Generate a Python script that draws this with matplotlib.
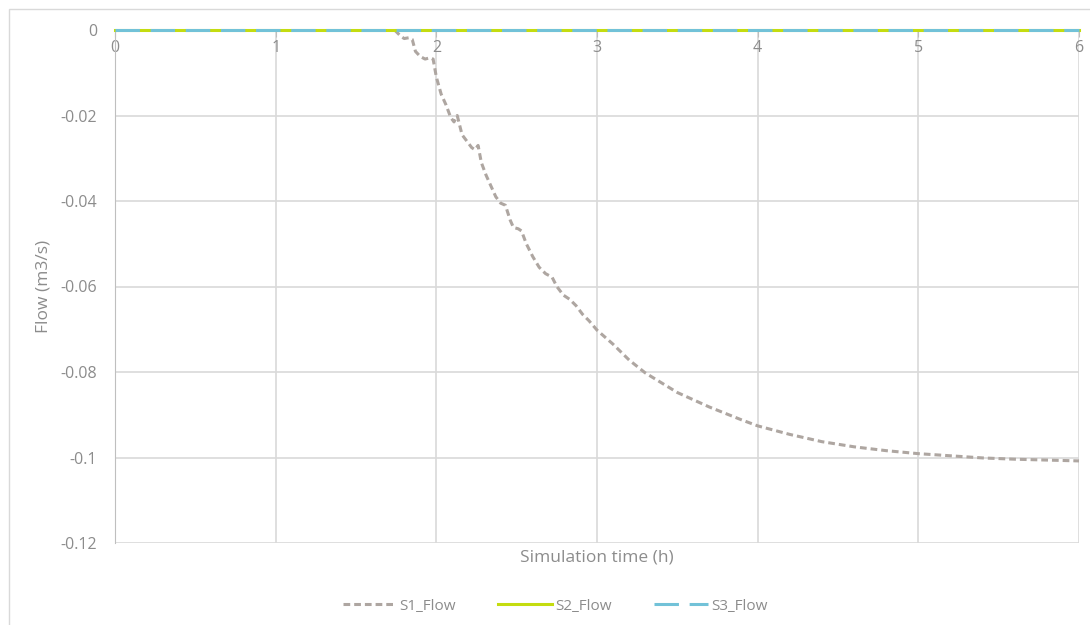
import matplotlib
matplotlib.use("Agg")
import matplotlib.pyplot as plt
from matplotlib.patches import Rectangle

plt.rcParams['font.family'] = ['Open Sans', 'DejaVu Sans']

# Simulation time (h) and flow (m3/s) for the three sources
s1_time = [1.74, 1.78, 1.80, 1.83, 1.85, 1.87, 1.90, 1.93, 1.96, 1.98, 2.00,
           2.03, 2.06, 2.09, 2.11, 2.13, 2.16, 2.19, 2.22, 2.24, 2.26, 2.28,
           2.31, 2.34, 2.37, 2.40, 2.43, 2.46, 2.48, 2.51, 2.53, 2.56, 2.60,
           2.64, 2.68, 2.72, 2.75, 2.79, 2.83, 2.87, 2.91, 2.95, 3.00, 3.1,
           3.2, 3.3, 3.4, 3.5, 3.6, 3.7, 3.8, 3.9, 4.0, 4.2, 4.4, 4.6, 4.8,
           5.0, 5.2, 5.4, 5.6, 5.8, 6.0]
s1_flow = [0.0, -0.0015, -0.002, -0.0018, -0.0022, -0.005, -0.0062, -0.0068,
           -0.0065, -0.0068, -0.011, -0.015, -0.0175, -0.0205, -0.0215, -0.020,
           -0.0245, -0.026, -0.0275, -0.028, -0.027, -0.031, -0.034, -0.0365,
           -0.039, -0.0405, -0.041, -0.0445, -0.0462, -0.0465, -0.047, -0.050,
           -0.053, -0.0555, -0.057, -0.0578, -0.060, -0.062, -0.063, -0.0645,
           -0.0665, -0.068, -0.0702, -0.0735, -0.0772, -0.0802, -0.0825,
           -0.0848, -0.0865, -0.0882, -0.0897, -0.0912, -0.0926, -0.0946,
           -0.0963, -0.0975, -0.0984, -0.0991, -0.0996, -0.1001, -0.1004,
           -0.1006, -0.1008]
s2_time = [0.0, 6.0]
s2_flow = [0.0, 0.0]
s3_time = [0.0, 6.0]
s3_flow = [0.0, 0.0]

x_ticks = [0, 1, 2, 3, 4, 5, 6]
y_ticks = [0, -0.02, -0.04, -0.06, -0.08, -0.1, -0.12]
y_tick_labels = ['0', '-0.02', '-0.04', '-0.06', '-0.08', '-0.1', '-0.12']

text_color = '#8c8c8c'
grid_color = '#d9d9d9'

W, H = 1090, 625
fig = plt.figure(figsize=(W / 100, H / 100), dpi=100)
fig.patch.set_facecolor('white')

# chart frame
fig.patches.append(Rectangle((9 / W, -0.1), 1.2, (H - 9) / H + 0.1,
                             transform=fig.transFigure, fill=False,
                             edgecolor='#d9d9d9', linewidth=1.0))

ax = fig.add_axes([115 / W, 1 - 543 / H, (1079 - 115) / W, (543 - 30) / H])
ax.set_xlim(0, 6)
ax.set_ylim(-0.12, 0)

ax.set_xticks(x_ticks)
ax.set_yticks(y_ticks)
ax.set_yticklabels(y_tick_labels)
ax.grid(True, color=grid_color, linewidth=1.2)
ax.set_axisbelow(True)

for side in ['top', 'right']:
    ax.spines[side].set_visible(False)
ax.spines['bottom'].set_position(('data', 0))
ax.spines['bottom'].set_color('#bfbfbf')
ax.spines['left'].set_color('#bfbfbf')

ax.tick_params(axis='x', direction='out', length=5, color='#bfbfbf',
               labelcolor=text_color, labelsize=11.5, pad=2)
ax.tick_params(axis='y', length=0, labelcolor=text_color, labelsize=11.5, pad=13)

l1, = ax.plot(s1_time, s1_flow, color='#aea6a1', linewidth=2.2,
              linestyle=(0, (2.2, 1.3)), label='S1_Flow', clip_on=False)
l2, = ax.plot(s2_time, s2_flow, color='#c4dc10', linewidth=2.2,
              linestyle='-', label='S2_Flow', clip_on=False, zorder=3)
l3, = ax.plot(s3_time, s3_flow, color='#72c2d8', linewidth=2.2,
              linestyle=(0, (8, 3.5)), label='S3_Flow', clip_on=False, zorder=4)

fig.text((115 + 1079) / 2 / W, 1 - 558 / H, 'Simulation time (h)',
         ha='center', va='center', color=text_color, fontsize=12.5)
fig.text(44 / W, 1 - 286 / H, 'Flow (m3/s)', ha='center', va='center',
         rotation=90, color=text_color, fontsize=12.5)

fig.legend(handles=[l1, l2, l3], loc='center', bbox_to_anchor=(555 / W, 1 - 606 / H),
           ncol=3, frameon=False, fontsize=11, labelcolor=text_color,
           handlelength=3.5, handletextpad=0.2, columnspacing=2.8)

fig.savefig('out.png', dpi=100)
